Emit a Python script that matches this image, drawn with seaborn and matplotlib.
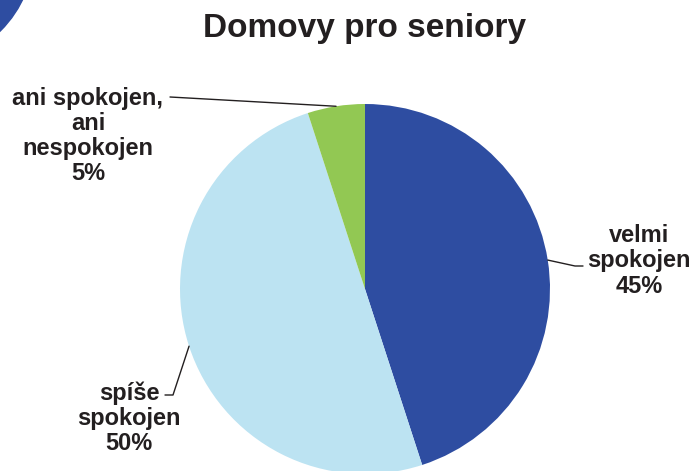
import numpy as np
import matplotlib
matplotlib.use("Agg")
import matplotlib.pyplot as plt
from matplotlib.patches import Circle
import seaborn as sns

# data
categories = ["velmi\nspokojen", "spíše\nspokojen", "ani spokojen,\nani\nnespokojen"]
values = [45, 50, 5]
colors = ["#2E4DA1", "#BCE3F2", "#92C853"]
title = "Domovy pro seniory"

sns.set_theme(style="white")
plt.rcParams['font.family'] = ['Liberation Sans', 'DejaVu Sans']

fig = plt.figure(figsize=(7, 4.71), dpi=100)
ax = fig.add_axes([0, 0, 1, 1])

cx, cy, r = 365, 182, 185
wedges, _ = ax.pie(values, colors=sns.color_palette(colors), startangle=90,
                   counterclock=False, center=(cx, cy), radius=r,
                   wedgeprops=dict(linewidth=0), frame=True)
ax.set_xlim(0, 700)
ax.set_ylim(0, 471)
ax.set_aspect('equal')
ax.axis('off')

# decoration in the corner
ax.add_patch(Circle((-80, 521), 114, color=colors[0], clip_on=False))

ax.text(365, 471 - 29, title, ha='center', va='center', fontsize=24,
        fontweight='bold', color='#231F20')

# label text position, elbow, line end (pixel space, y up)
label_pos = [(639, 471 - 261), (129, 471 - 418), (88, 471 - 136)]
elbows = [(575, 471 - 266), (173, 471 - 395), None]
ends = [(583, 471 - 266), (165, 471 - 395), (170, 471 - 97)]

for w, lab, v, pos, el, en in zip(wedges, categories, values, label_pos, elbows, ends):
    mid = np.deg2rad((w.theta1 + w.theta2) / 2)
    ex, ey = cx + r * np.cos(mid), cy + r * np.sin(mid)
    xs = [ex] + ([el[0]] if el else []) + [en[0]]
    ys = [ey] + ([el[1]] if el else []) + [en[1]]
    ax.plot(xs, ys, color='#231F20', lw=1)
    ax.text(pos[0], pos[1], f"{lab}\n{v}%", ha='center', va='center',
            fontsize=17, fontweight='bold', color='#231F20', linespacing=1.12)

fig.savefig("out.png", dpi=100)
